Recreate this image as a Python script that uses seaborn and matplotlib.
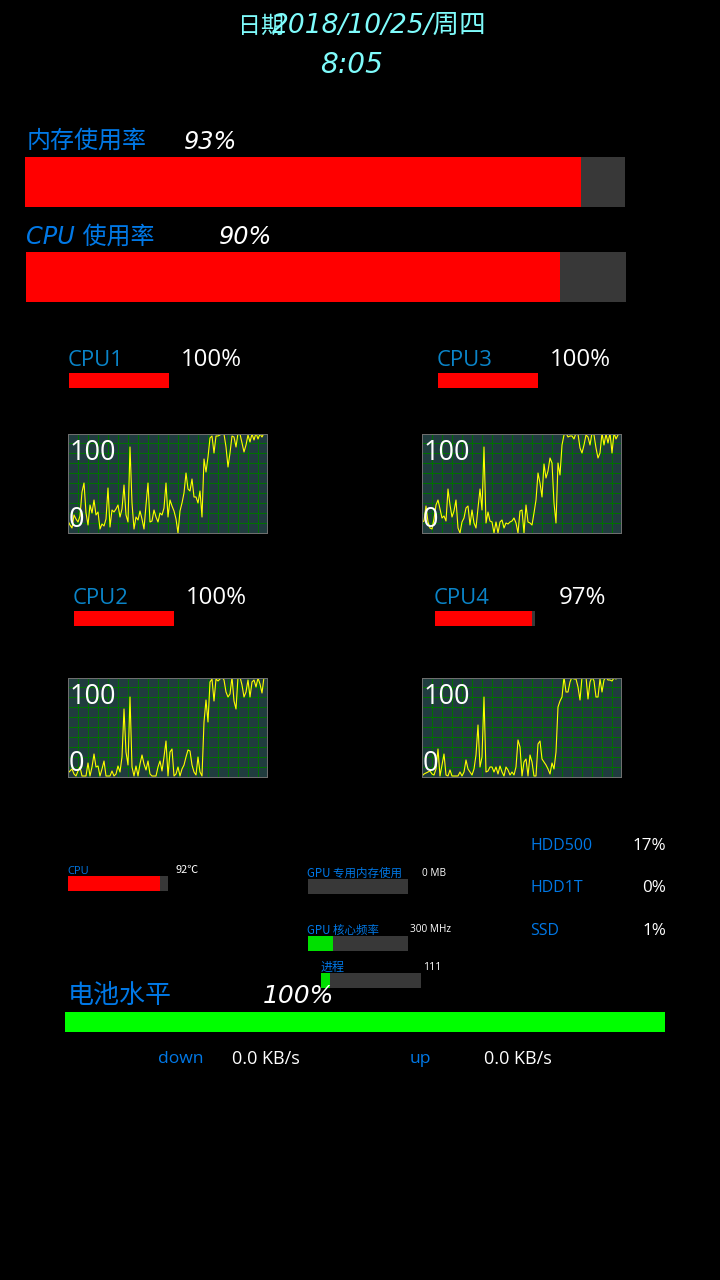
import numpy as np
import pandas as pd
import seaborn as sns
import matplotlib
matplotlib.use("Agg")
import matplotlib.pyplot as plt

# usage history
cpu1_hist = [12,8,5,18,14,11,17,41,50,20,
             8,28,20,33,18,21,4,9,7,14,
             45,6,23,21,24,28,16,24,48,18,
             11,86,30,4,16,13,22,14,4,28,
             50,11,12,23,16,11,20,18,25,50,
             16,33,27,22,14,0,22,30,40,60,
             44,42,54,36,36,30,42,16,74,61,
             76,95,97,80,97,97,98,100,99,86,
             66,80,97,96,86,100,99,90,81,88,
             98,91,99,93,100,94,99,96,100]
cpu3_hist = [11,12,27,11,5,4,14,28,33,24,
             15,17,12,44,28,16,22,33,5,0,
             11,15,25,27,8,23,10,5,25,44,
             23,86,10,21,12,11,0,11,0,11,
             13,5,10,9,11,12,15,10,0,22,
             23,0,28,11,10,8,20,33,60,50,
             36,69,55,62,75,70,30,10,70,58,
             88,98,100,96,97,97,94,100,99,85,
             80,88,98,96,88,100,98,85,75,80,
             100,88,99,90,100,80,100,94,98]
cpu2_hist = [4,6,8,3,1,6,10,1,1,1,
             14,1,10,23,10,11,1,8,16,1,
             1,1,6,1,3,11,5,20,68,25,
             12,80,10,1,11,1,13,22,13,7,
             16,3,1,1,1,10,16,6,20,36,
             1,25,28,1,3,10,1,8,12,20,
             27,26,12,5,2,20,5,1,55,77,
             55,95,98,76,98,96,98,100,97,85,
             80,83,100,76,68,100,100,92,80,85,
             97,80,95,97,90,99,93,84,100]
cpu4_hist = [1,3,4,5,6,3,2,8,28,1,
             12,23,2,1,7,1,1,1,1,5,
             1,5,17,8,5,2,8,22,52,10,
             20,80,5,6,10,10,5,10,3,11,
             5,1,10,7,2,5,2,10,37,30,
             1,15,18,1,22,15,1,1,33,36,
             18,15,12,8,3,14,8,25,70,76,
             80,100,85,85,95,100,98,98,90,77,
             100,100,100,78,95,100,96,80,80,98,
             85,97,100,97,97,96,99,98,100]

mem_usage = 92.7
cpu_usage = 89
core_usage = [100, 100, 100, 97]
core_names = ["CPU1", "CPU2", "CPU3", "CPU4"]
core_texts = ["100%", "100%", "100%", "97%"]
cpu_temp = 92
gpu_mem = 0
gpu_freq = 25
proc_count = 9
battery = 100
disk_names = ["HDD500", "HDD1T", "SSD"]
disk_texts = ["17%", "0%", "1%"]

W, H = 720, 1280
BG = "#000000"
TRACK = "#383838"
RED = "#ff0000"
BLUE = "#0078e6"
TEAL = "#0a84c8"
CYAN = "#7ffcfc"
CJK = ["Noto Sans CJK SC", "DejaVu Sans"]
HAND = ["DejaVu Sans", "Noto Sans CJK SC"]
LATIN = ["Open Sans", "Noto Sans CJK SC"]
ONE_PX = 0.72

sns.set_theme(style="white")
plt.rcParams["font.family"] = LATIN

fig = plt.figure(figsize=(W / 100, H / 100), dpi=100, facecolor=BG)


def box(x0, y0, x1, y1):
    # pixel box, measured from the top left of the picture
    return fig.add_axes([x0 / W, 1 - y1 / H, (x1 - x0) / W, (y1 - y0) / H])


def label(x, y, s, px, color="white", ha="left", family=LATIN, style="normal"):
    # va center sits a little high on these fonts
    fig.text(x / W, 1 - (y + 2) / H, s, fontsize=px * 0.72, color=color, ha=ha, va="center",
             family=family, style=style)


def meter(x0, y0, x1, y1, value, color=RED):
    ax = box(x0, y0, x1, y1)
    ax.set_facecolor(TRACK)
    sns.barplot(x=[value], y=["v"], orient="h", color=color, saturation=1, width=1,
                linewidth=0, ax=ax)
    ax.set_xlim(0, 100)
    ax.set_ylim(0.5, -0.5)
    ax.set(xticks=[], yticks=[], xlabel="", ylabel="")
    sns.despine(ax=ax, left=True, bottom=True)


def history(x0, y0, values):
    ax = box(x0, y0, x0 + 199, y0 + 99)
    ax.set_facecolor("#203c3e")
    df = pd.DataFrame({"t": np.arange(len(values)), "use": values})
    # 2 px per sample and 1 px per percent, so the grid lands on whole pixels
    ax.set_xlim(0, 99.5)
    ax.set_ylim(0, 99)
    ax.set_xticks(np.arange(5, 99, 5))
    ax.set_yticks(np.arange(10, 99, 10))
    ax.grid(True, color="#007000", lw=ONE_PX)
    ax.set_axisbelow(True)
    ax.tick_params(length=0, labelbottom=False, labelleft=False)
    sns.lineplot(data=df, x="t", y="use", color="#ffff00", lw=0.8, ax=ax, clip_on=True)
    ax.set(xlabel="", ylabel="")
    for s in ax.spines.values():
        s.set_visible(True)
        s.set_color("#6e6e6e")
        s.set_linewidth(ONE_PX)
    label(x0 + 2, y0 + 17, "100", 27)
    label(x0 + 1, y0 + 84, "0", 27)


# date and time
label(238, 24, "日期", 23, CYAN, family=CJK)
label(272, 24, "2018/10/25/周四", 26.5, CYAN, family=HAND, style="italic")
label(352, 63, "8:05", 28, CYAN, ha="center", family=HAND, style="italic")

# memory and overall cpu
label(27, 139, "内存使用率", 24, BLUE, family=CJK)
label(184, 140, "93%", 24, family=HAND, style="italic")
meter(25, 157, 625, 207, mem_usage)
label(26, 235, "CPU 使用率", 24, BLUE, family=HAND, style="italic")
label(219, 235, "90%", 24, family=HAND, style="italic")
meter(26, 252, 626, 302, cpu_usage)

# per core
label(68, 358, core_names[0], 22, TEAL)
label(181, 358, core_texts[0], 24)
meter(69, 373, 169, 388, core_usage[0])
history(68, 434, cpu1_hist)

label(437, 358, core_names[2], 22, TEAL)
label(550, 358, core_texts[2], 24)
meter(438, 373, 538, 388, core_usage[2])
history(422, 434, cpu3_hist)

label(73, 596, core_names[1], 22, TEAL)
label(186, 596, core_texts[1], 24)
meter(74, 611, 174, 626, core_usage[1])
history(68, 678, cpu2_hist)

label(434, 596, core_names[3], 22, TEAL)
label(559, 596, core_texts[3], 24)
meter(435, 611, 535, 626, core_usage[3])
history(422, 678, cpu4_hist)

# temperature, gpu, processes
label(67, 869, "CPU", 11, BLUE)
label(176, 868, "92℃", 11, family=CJK)
meter(68, 876, 168, 891, cpu_temp)
label(307, 871, "GPU 专用内存使用", 11.5, BLUE, family=CJK)
label(422, 871, "0 MB", 10)
meter(308, 879, 408, 894, gpu_mem)
label(307, 928, "GPU 核心频率", 11.5, BLUE, family=CJK)
label(410, 928, "300 MHz", 10)
meter(308, 936, 408, 951, gpu_freq, color="#00e000")
label(321, 965, "进程", 12, BLUE, family=CJK)
label(423, 965, "111", 10.5)
meter(321, 973, 421, 988, proc_count, color="#00e000")

# disks
for name, txt, y in zip(disk_names, disk_texts, [844, 886, 929]):
    label(530, y, name, 16, BLUE)
    label(666, y, txt, 17, ha="right")

# battery
label(68, 993, "电池水平", 26, BLUE, family=CJK)
label(263, 994, "100%", 25, family=HAND, style="italic")
meter(65, 1012, 665, 1032, battery, color="#00ff00")

# network
label(158, 1057, "down", 17.5, BLUE)
label(232, 1057, "0.0 KB/s", 18)
label(410, 1057, "up", 17.5, BLUE)
label(484, 1057, "0.0 KB/s", 18)

fig.savefig("out.png", dpi=100, facecolor=BG)
